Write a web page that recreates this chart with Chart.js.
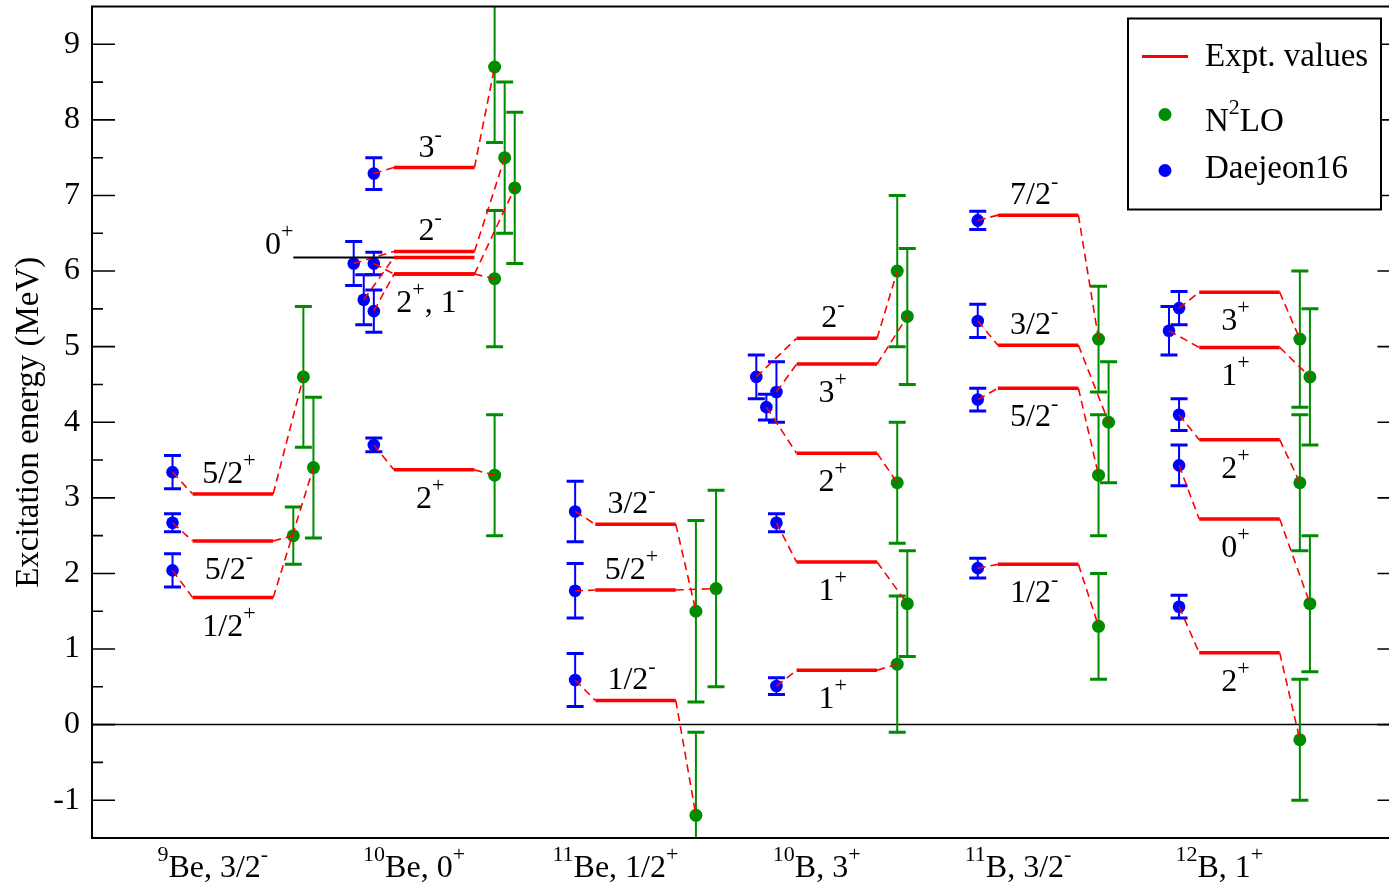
<!DOCTYPE html>
<html>
<head>
<meta charset="utf-8">
<script src="https://cdn.jsdelivr.net/npm/chart.js@4.4.1/dist/chart.umd.min.js"></script>
<style>
  html, body { margin: 0; padding: 0; background: #fff; overflow: hidden; }
  /* the plot frame runs a little past the right edge of the window, as in the original */
  #wrap { width: 1407px; height: 896px; }
</style>
</head>
<body>
<div id="wrap"><canvas id="levels"></canvas></div>
<script>
// nuclei along the x axis (group k sits between k and k+1)
const nuclei = ["^{9}Be, 3/2^-", "^{10}Be, 0^+", "^{11}Be, 1/2^+", "^{10}B, 3^+", "^{11}B, 3/2^-", "^{12}B, 1^+"]

// one entry per excited level
const levelNucleus = [0, 0, 0, 1, 1, 1, 1, 1, 1, 2, 2, 2, 3, 3, 3, 3, 3, 4, 4, 4, 4, 5, 5, 5, 5, 5]
const levelLabels = ["5/2^+", "5/2^-", "1/2^+", "3^-", "2^-", "0^+", "2^+, 1^-", "", "2^+", "3/2^-", "5/2^+", "1/2^-",
  "2^-", "3^+", "2^+", "1^+", "1^+", "7/2^-", "3/2^-", "5/2^-", "1/2^-", "3^+", "1^+", "2^+", "0^+", "2^+"]
const labelSide = [1, -1, -1, 1, 1, 0, -1, -1, -1, 1, 1, 1, 1, -1, -1, -1, -1, 1, 1, -1, -1, -1, -1, -1, -1, -1]
const exptValues = [3.05, 2.43, 1.68, 7.37, 6.26, 6.18, 5.96, 5.96, 3.37, 2.65, 1.78, 0.32,
  5.11, 4.77, 3.59, 2.15, 0.72, 6.74, 5.02, 4.45, 2.12, 5.72, 4.99, 3.77, 2.72, 0.95]

// Daejeon16
const daejeonX = [0.4, 0.4, 0.4, 1.4, 1.3, 1.35, 1.4, 1.4, 1.4, 2.4, 2.4, 2.4,
  3.3, 3.4, 3.35, 3.4, 3.4, 4.4, 4.4, 4.4, 4.4, 5.4, 5.35, 5.4, 5.4, 5.4]
const daejeonE = [3.34, 2.67, 2.04, 7.29, 6.10, 5.62, 6.10, 5.47, 3.70, 2.82, 1.77, 0.59,
  4.60, 4.40, 4.20, 2.67, 0.51, 6.67, 5.34, 4.30, 2.07, 5.51, 5.21, 4.10, 3.43, 1.56]
const daejeonErr = [0.22, 0.12, 0.22, 0.21, 0.29, 0.33, 0.15, 0.28, 0.09, 0.40, 0.36, 0.35,
  0.29, 0.40, 0.17, 0.12, 0.11, 0.12, 0.22, 0.15, 0.13, 0.22, 0.32, 0.21, 0.27, 0.15]

// N2LO (no value for the 10Be 0+ level)
const n2loX = [1.05, 1.0, 1.1, 2.0, 2.05, null, 2.0, 2.1, 2.0, 3.0, 3.1, 3.0,
  4.0, 4.05, 4.0, 4.05, 4.0, 5.0, 5.05, 5.0, 5.0, 6.0, 6.05, 6.0, 6.05, 6.0]
const n2loE = [4.60, 2.50, 3.40, 8.70, 7.50, null, 5.90, 7.10, 3.30, 1.50, 1.80, -1.20,
  6.00, 5.40, 3.20, 1.60, 0.80, 5.10, 4.00, 3.30, 1.30, 5.10, 4.60, 3.20, 1.60, -0.20]
const n2loErr = [0.93, 0.38, 0.93, 1.0, 1.0, null, 0.9, 1.0, 0.8, 1.2, 1.3, 1.1,
  1.0, 0.9, 0.8, 0.7, 0.9, 0.7, 0.8, 0.8, 0.7, 0.9, 0.9, 0.9, 0.9, 0.8]

const yTicks = [-1, 0, 1, 2, 3, 4, 5, 6, 7, 8, 9]

const SERIF = '"Liberation Serif", "Times New Roman", serif'
const RED = "#ff0000"
const BLUE = "#0000ff"
const GREEN = "rgb(0,140,0)"

// "^x" or "^{xx}" marks a superscript
function parseRich(s) {
  const parts = []
  let buf = ""
  let i = 0
  while (i < s.length) {
    if (s[i] === "^") {
      if (buf) { parts.push({ t: buf, sup: false }); buf = "" }
      if (s[i + 1] === "{") {
        const j = s.indexOf("}", i)
        parts.push({ t: s.slice(i + 2, j), sup: true })
        i = j + 1
      } else {
        parts.push({ t: s[i + 1], sup: true })
        i += 2
      }
    } else {
      buf += s[i]
      i++
    }
  }
  if (buf) parts.push({ t: buf, sup: false })
  return parts
}

function drawRich(ctx, s, x, y, size, align) {
  const parts = parseRich(s)
  const supSize = Math.round(size * 0.68)
  let w = 0
  parts.forEach(p => {
    ctx.font = `${p.sup ? supSize : size}px ${SERIF}`
    p.w = ctx.measureText(p.t).width
    w += p.w
  })
  let cx = align === "center" ? x - w / 2 : align === "right" ? x - w : x
  ctx.textAlign = "left"
  ctx.textBaseline = "alphabetic"
  ctx.fillStyle = "#000"
  parts.forEach(p => {
    ctx.font = `${p.sup ? supSize : size}px ${SERIF}`
    ctx.fillText(p.t, cx, p.sup ? y - size * 0.5 : y)
    cx += p.w
  })
}

// expt. line with dashed connectors to both calculations
const levelSets = exptValues.map((e, i) => {
  const k = levelNucleus[i]
  const pts = [
    { x: daejeonX[i], y: daejeonE[i] },
    { x: k + 0.5, y: e },
    { x: k + 0.9, y: e }
  ]
  if (n2loE[i] !== null) pts.push({ x: n2loX[i], y: n2loE[i] })
  return {
    data: pts,
    showLine: true,
    borderColor: RED,
    borderWidth: 3.5,
    borderDash: [],
    pointRadius: 0,
    pointHoverRadius: 0,
    segment: {
      borderWidth: c => (c.p0DataIndex === 1 ? undefined : 1.6),
      borderDash: c => (c.p0DataIndex === 1 ? undefined : [8, 5])
    }
  }
})

const bluePts = daejeonX.map((x, i) => ({ x, y: daejeonE[i], err: daejeonErr[i] }))
const greenPts = n2loX.map((x, i) => ({ x, y: n2loE[i], err: n2loErr[i] })).filter(p => p.x !== null)

const errorBars = {
  id: "errorBars",
  beforeDatasetsDraw(chart) {
    const { ctx, chartArea, scales: { x, y } } = chart
    ctx.save()
    ctx.beginPath()
    ctx.rect(chartArea.left, chartArea.top, chartArea.right - chartArea.left, chartArea.bottom - chartArea.top)
    ctx.clip()
    // zero line
    ctx.strokeStyle = "#000"
    ctx.lineWidth = 1.5
    ctx.beginPath()
    ctx.moveTo(chartArea.left, y.getPixelForValue(0))
    ctx.lineTo(chartArea.right, y.getPixelForValue(0))
    ctx.stroke()
    ;[[bluePts, BLUE], [greenPts, GREEN]].forEach(([pts, color]) => {
      ctx.strokeStyle = color
      pts.forEach(p => {
        const px = x.getPixelForValue(p.x)
        const top = y.getPixelForValue(p.y + p.err)
        const bot = y.getPixelForValue(p.y - p.err)
        ctx.lineWidth = 2
        ctx.beginPath()
        ctx.moveTo(px, top)
        ctx.lineTo(px, bot)
        ctx.stroke()
        ctx.lineWidth = 3
        ctx.beginPath()
        ctx.moveTo(px - 8.5, top)
        ctx.lineTo(px + 8.5, top)
        ctx.moveTo(px - 8.5, bot)
        ctx.lineTo(px + 8.5, bot)
        ctx.stroke()
      })
    })
    ctx.restore()
  }
}

const decorations = {
  id: "decorations",
  afterDraw(chart) {
    const { ctx, chartArea, scales: { x, y } } = chart
    ctx.save()

    // frame and inward ticks
    ctx.strokeStyle = "#000"
    ctx.lineWidth = 2
    ctx.strokeRect(chartArea.left, chartArea.top, chartArea.right - chartArea.left, chartArea.bottom - chartArea.top)
    for (let v = y.min + 0.5; v < y.max; v += 0.5) {
      const py = y.getPixelForValue(v)
      const len = Number.isInteger(v) ? 23 : 11
      ctx.lineWidth = 1.6
      ctx.beginPath()
      ctx.moveTo(chartArea.left, py)
      ctx.lineTo(chartArea.left + len, py)
      ctx.moveTo(chartArea.right - len, py)
      ctx.lineTo(chartArea.right, py)
      ctx.stroke()
    }

    // level labels
    exptValues.forEach((e, i) => {
      const k = levelNucleus[i]
      const py = y.getPixelForValue(e)
      if (!levelLabels[i]) return
      if (labelSide[i] === 0) {
        // label moved left with a black leader line
        ctx.strokeStyle = "#000"
        ctx.lineWidth = 2
        ctx.beginPath()
        ctx.moveTo(x.getPixelForValue(k), py)
        ctx.lineTo(x.getPixelForValue(k + 0.5), py)
        ctx.stroke()
        drawRich(ctx, levelLabels[i], x.getPixelForValue(k), py - 3, 32, "right")
      } else {
        const by = labelSide[i] > 0 ? py - 11 : py + 38
        drawRich(ctx, levelLabels[i], x.getPixelForValue(k + 0.68), by, 32, "center")
      }
    })

    // nucleus names under the axis
    nuclei.forEach((n, k) => {
      drawRich(ctx, n, x.getPixelForValue(k + 0.6), chartArea.bottom + 39, 32, "center")
    })

    // legend box
    const lx = 1128
    const ly = chartArea.top + 12
    ctx.fillStyle = "#fff"
    ctx.fillRect(lx, ly, 253, 191)
    ctx.strokeStyle = "#000"
    ctx.lineWidth = 2
    ctx.strokeRect(lx, ly, 253, 191)
    ctx.strokeStyle = RED
    ctx.lineWidth = 3
    ctx.beginPath()
    ctx.moveTo(lx + 14, ly + 38)
    ctx.lineTo(lx + 60, ly + 38)
    ctx.stroke()
    ctx.fillStyle = GREEN
    ctx.beginPath()
    ctx.arc(lx + 37, ly + 96, 6.5, 0, Math.PI * 2)
    ctx.fill()
    ctx.fillStyle = BLUE
    ctx.beginPath()
    ctx.arc(lx + 37, ly + 152, 6.5, 0, Math.PI * 2)
    ctx.fill()
    drawRich(ctx, "Expt. values", lx + 77, ly + 47, 33, "left")
    drawRich(ctx, "N^2LO", lx + 77, ly + 112, 33, "left")
    drawRich(ctx, "Daejeon16", lx + 77, ly + 159, 33, "left")

    ctx.restore()
  }
}

new Chart(document.getElementById("levels"), {
  type: "scatter",
  data: {
    datasets: [
      ...levelSets,
      {
        label: "N2LO",
        data: greenPts,
        backgroundColor: GREEN,
        borderWidth: 0,
        pointRadius: 6.5,
        pointHoverRadius: 6.5
      },
      {
        label: "Daejeon16",
        data: bluePts,
        backgroundColor: BLUE,
        borderWidth: 0,
        pointRadius: 6.3,
        pointHoverRadius: 6.3
      }
    ]
  },
  options: {
    responsive: true,
    maintainAspectRatio: false,
    animation: false,
    events: [],
    layout: { padding: { left: 0, right: 0, top: 5, bottom: 58 } },
    plugins: {
      legend: { display: false },
      tooltip: { enabled: false }
    },
    scales: {
      x: {
        type: "linear",
        min: 0,
        max: 6.5,
        display: false
      },
      y: {
        min: -1.5,
        max: 9.5,
        afterFit: s => {
          s.width = 92
          s.paddingTop = 0
          s.paddingBottom = 0
          s.paddingLeft = 0
          s.paddingRight = 0
        },
        afterBuildTicks: s => { s.ticks = yTicks.map(v => ({ value: v })) },
        grid: { display: false, drawTicks: false },
        border: { display: false },
        ticks: {
          color: "#000",
          padding: 12,
          font: { family: SERIF, size: 32 }
        },
        title: {
          display: true,
          text: "Excitation energy (MeV)",
          color: "#000",
          font: { family: SERIF, size: 33 },
          padding: { top: 10, bottom: 0 }
        }
      }
    }
  },
  plugins: [errorBars, decorations]
})
</script>
</body>
</html>
